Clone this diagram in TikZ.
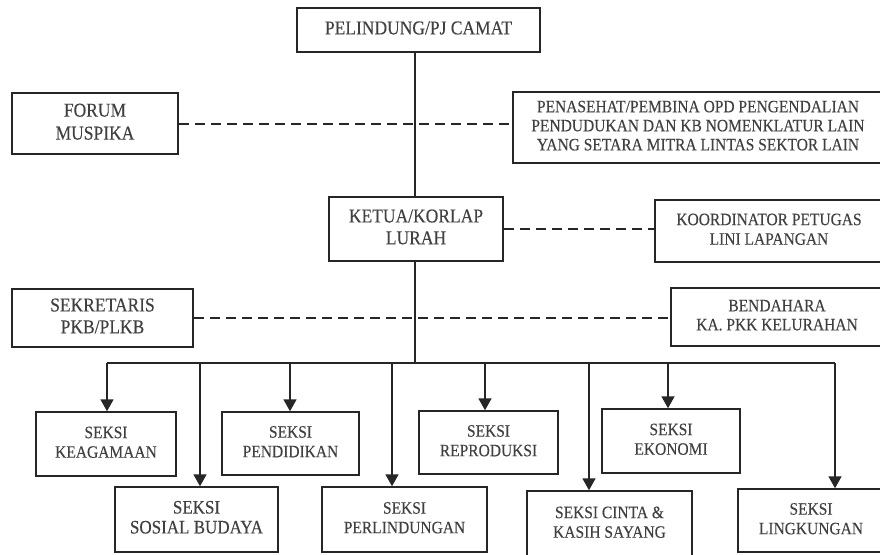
\documentclass[tikz,border=0pt]{standalone}
\usepackage{fontspec}
\setmainfont{Liberation Serif}[FakeBold=0.2]
\usetikzlibrary{arrows.meta}
\usepackage{graphicx}
\definecolor{ink}{HTML}{262626}
\definecolor{txt}{HTML}{404040}
\newcommand\lbl[1]{\scalebox{1}[1.12]{\begin{tabular}{@{}c@{}}#1\end{tabular}}}
\tikzset{
  box/.style={draw=ink, line width=1.5pt, rectangle, inner sep=0pt, align=center, text=txt},
  big/.style={font=\fontsize{17.5}{19.5}\selectfont},
  small/.style={font=\fontsize{15.5}{17.5}\selectfont},
  solidline/.style={draw=ink, line width=1.8pt},
  dashline/.style={draw=ink, line width=2pt, dash pattern=on 10pt off 6pt},
  arr/.style={draw=ink, line width=1.8pt, -{Triangle[length=12pt,width=13pt]}}
}
\begin{document}
\begin{tikzpicture}[x=1pt,y=-1pt]
\clip (0,0) rectangle (880,554);
\fill[white] (0,0) rectangle (880,554);
% top level
\node[box,big,minimum width=243pt,minimum height=44pt] (pel) at (418.5,30) {\lbl{PELINDUNG/PJ CAMAT}};
\node[box,big,font=\fontsize{17.5}{20.5}\selectfont,minimum width=166pt,minimum height=61pt] (forum) at (95,123.5) {\lbl{FORUM\\MUSPIKA}};
\node[box,small,font=\fontsize{15.5}{17}\selectfont,minimum width=370pt,minimum height=71pt] (pen) at (698,127.5) {\lbl{PENASEHAT/PEMBINA OPD PENGENDALIAN\\PENDUDUKAN DAN KB NOMENKLATUR LAIN\\YANG SETARA MITRA LINTAS SEKTOR LAIN}};
\node[box,big,minimum width=174pt,minimum height=64pt] (ketua) at (416,229) {\lbl{KETUA/KORLAP\\LURAH}};
\node[box,small,minimum width=228pt,minimum height=62pt] (koord) at (769,231) {\lbl{KOORDINATOR PETUGAS\\LINI LAPANGAN}};
\node[box,big,minimum width=181pt,minimum height=58pt] (sekr) at (102.5,318) {\lbl{SEKRETARIS\\PKB/PLKB}};
\node[box,small,font=\fontsize{15.5}{17}\selectfont,minimum width=212pt,minimum height=58pt] (bend) at (777,317) {\lbl{BENDAHARA\\KA. PKK KELURAHAN}};
% sections
\node[box,small,minimum width=140pt,minimum height=64pt] (keag) at (106,444) {\lbl{SEKSI\\KEAGAMAAN}};
\node[box,font=\fontsize{17}{17.8}\selectfont,minimum width=163pt,minimum height=65pt] (sosbud) at (196.5,519.5) {\lbl{SEKSI\\SOSIAL BUDAYA}};
\node[box,small,minimum width=137pt,minimum height=63pt] (pendid) at (290.5,443.5) {\lbl{SEKSI\\PENDIDIKAN}};
\node[box,small,minimum width=165pt,minimum height=65pt] (perlind) at (404.5,519.5) {\lbl{SEKSI\\PERLINDUNGAN}};
\node[box,small,minimum width=139pt,minimum height=63pt] (repro) at (488.5,442.5) {\lbl{SEKSI\\REPRODUKSI}};
\node[box,small,minimum width=165pt,minimum height=66pt] (cinta) at (609.5,524) {\lbl{SEKSI CINTA \&\\KASIH SAYANG}};
\node[box,small,minimum width=138pt,minimum height=64pt] (eko) at (671,441) {\lbl{SEKSI\\EKONOMI}};
\node[box,small,minimum width=146pt,minimum height=63pt] (lingk) at (811,520.5) {\lbl{SEKSI\\LINGKUNGAN}};
% dashed links
\draw[dashline] (forum.east) -- (forum.east -| pen.west);
\draw[dashline] (ketua.east) -- (ketua.east -| koord.west);
\draw[dashline] (sekr.east) -- (sekr.east -| bend.west);
% main spine
\coordinate (hub) at (415,363);
\draw[solidline] (pel.south -| hub) -- (ketua.north -| hub);
\draw[solidline] (ketua.south -| hub) -- (hub);
\coordinate (bl) at (107,363);
\coordinate (br) at (835,363);
\draw[solidline] (bl) -- (br);
% drops
\coordinate (d1) at (107,363);
\coordinate (d2) at (200,363);
\coordinate (d3) at (290,363);
\coordinate (d4) at (392,363);
\coordinate (d5) at (485,363);
\coordinate (d6) at (589,363);
\coordinate (d7) at (668,363);
\coordinate (d8) at (835,363);
\draw[arr] (d1) -- (d1 |- keag.north);
\draw[arr] (d2) -- (d2 |- sosbud.north);
\draw[arr] (d3) -- (d3 |- pendid.north);
\draw[arr] (d4) -- (d4 |- perlind.north);
\draw[arr] (d5) -- (d5 |- repro.north);
\draw[arr] (d6) -- (d6 |- cinta.north);
\draw[arr] (d7) -- (d7 |- eko.north);
\draw[arr] (d8) -- (d8 |- lingk.north);
\end{tikzpicture}
\end{document}
